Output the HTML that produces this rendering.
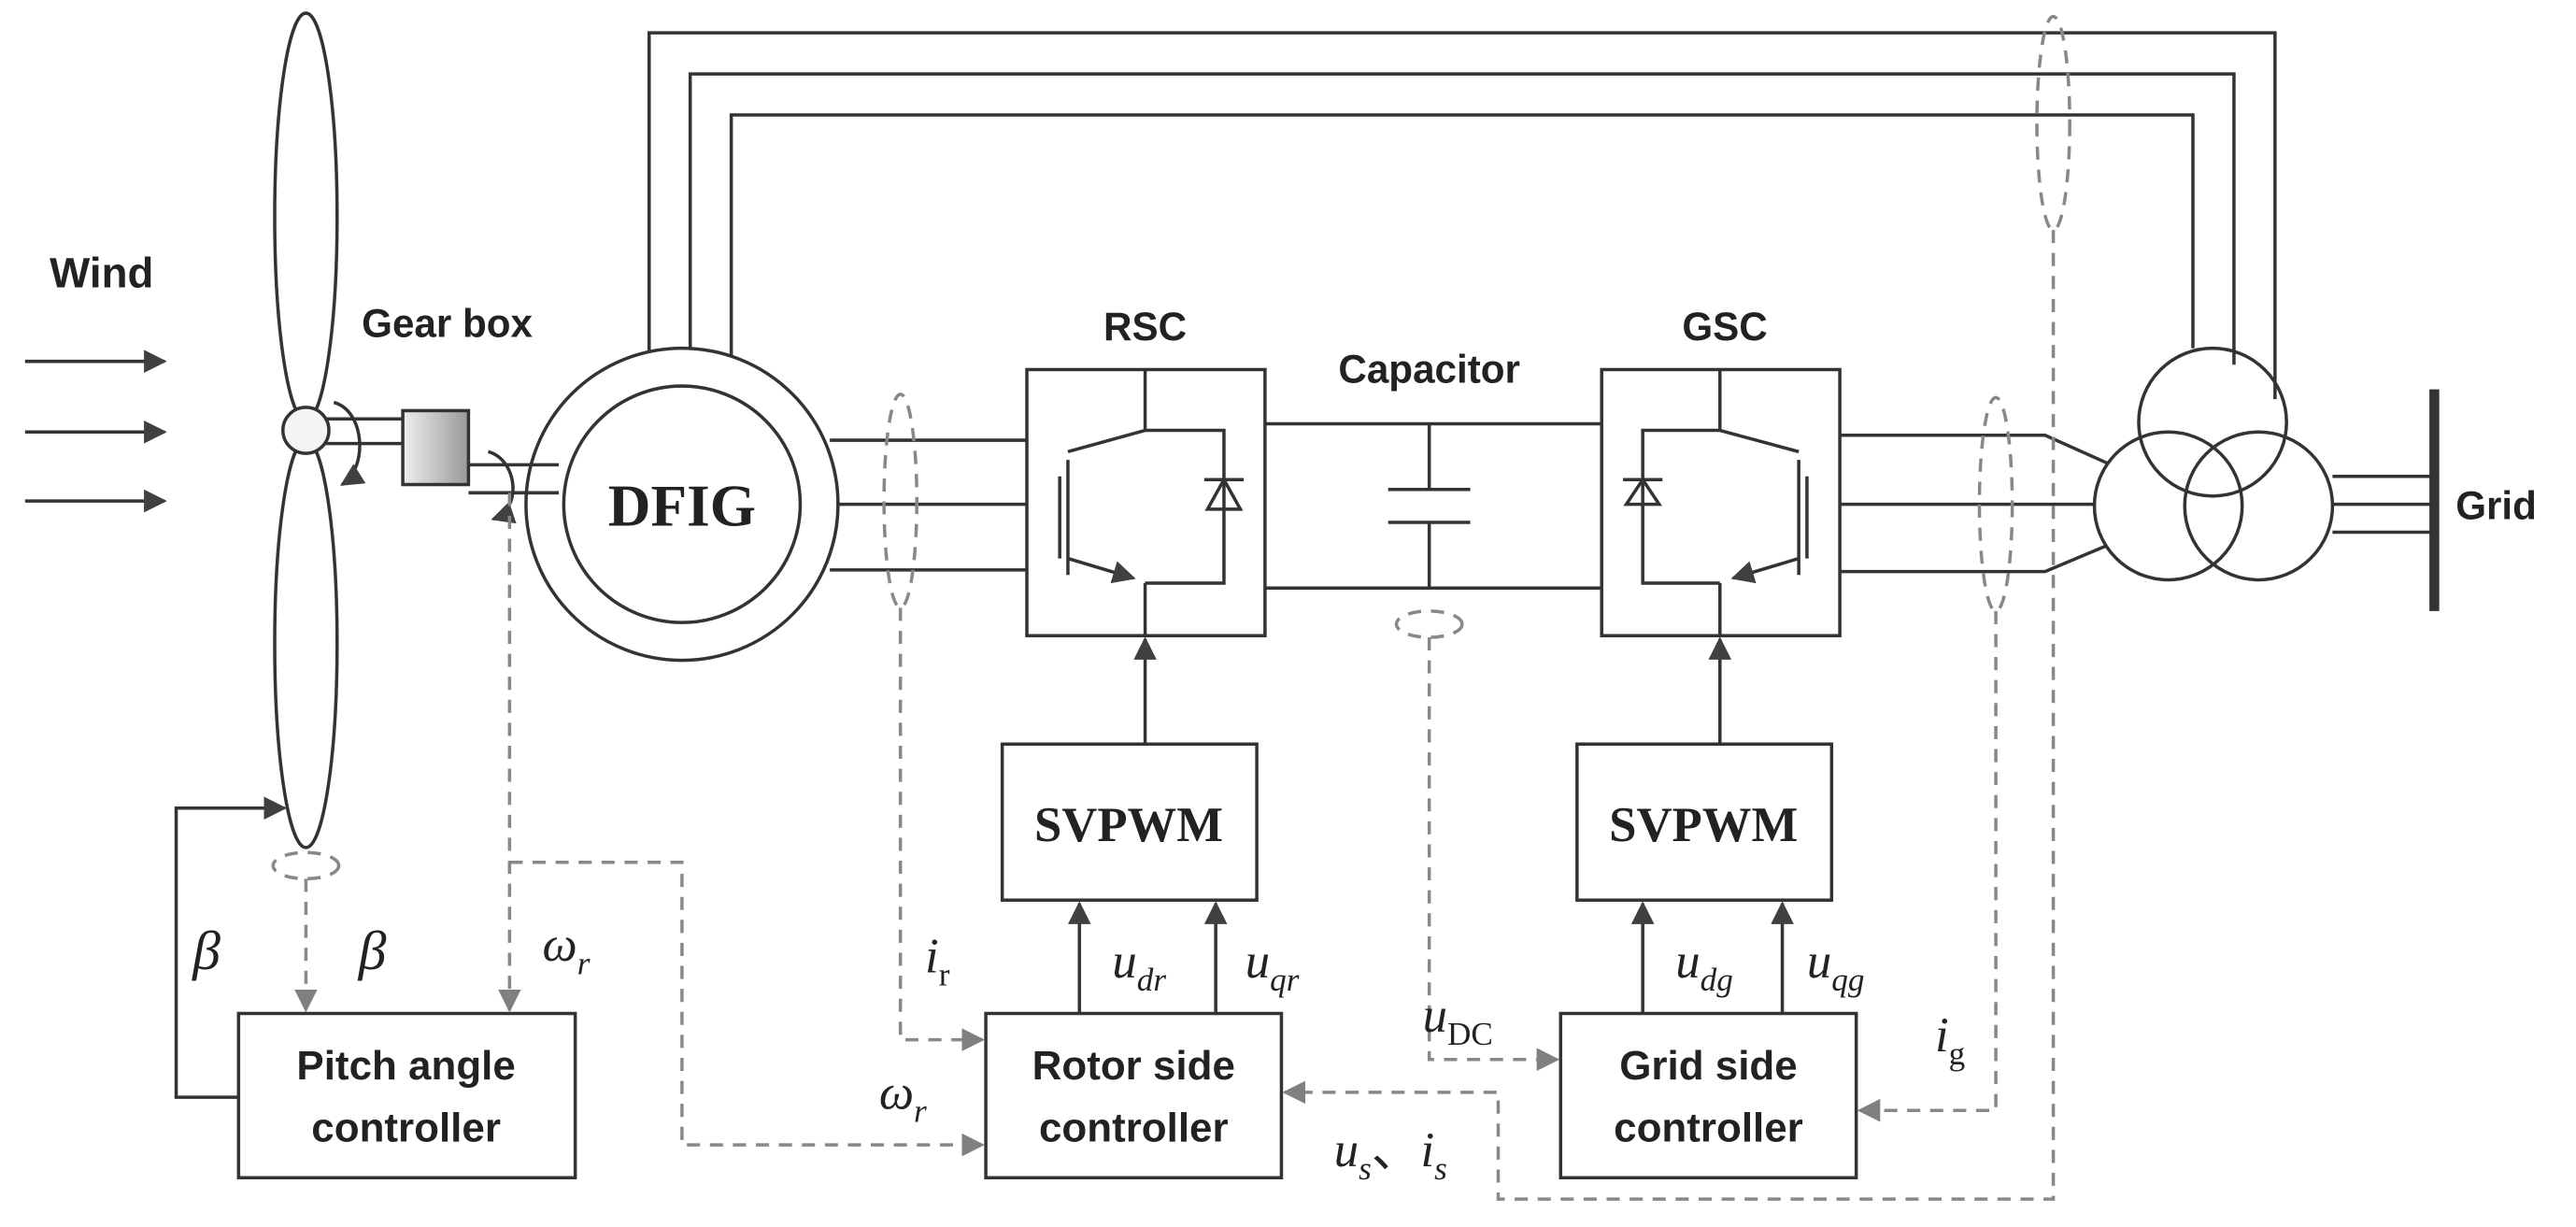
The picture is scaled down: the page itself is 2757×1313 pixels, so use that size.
<!DOCTYPE html>
<html><head><meta charset="utf-8"><style>
html,body{margin:0;padding:0;background:#fff;}
svg{display:block;}
.s{font-family:"Liberation Sans",sans-serif;font-weight:bold;}
.m{font-family:"Liberation Serif",serif;font-style:italic;}
</style></head><body>
<svg width="2757" height="1313" viewBox="0 0 1568 747" xmlns="http://www.w3.org/2000/svg">
<defs>
<marker id="a" viewBox="0 0 10 10" refX="9" refY="5" markerWidth="7" markerHeight="7" orient="auto-start-reverse"><path d="M0,0 L10,5 L0,10 z" fill="#404040"/></marker>
<marker id="g" viewBox="0 0 10 10" refX="9" refY="5" markerWidth="7" markerHeight="7" orient="auto-start-reverse"><path d="M0,0 L10,5 L0,10 z" fill="#808080"/></marker>
<linearGradient id="gb" x1="0" x2="1"><stop offset="0" stop-color="#eee"/><stop offset="1" stop-color="#999"/></linearGradient>
</defs>
<g fill="none" stroke="#333" stroke-width="2">
<line x1="15" y1="220" x2="100" y2="220" marker-end="url(#a)"/>
<line x1="15" y1="263" x2="100" y2="263" marker-end="url(#a)"/>
<line x1="15" y1="305" x2="100" y2="305" marker-end="url(#a)"/>
<ellipse cx="186" cy="132" rx="19" ry="124"/>
<ellipse cx="186" cy="392" rx="19" ry="124"/>
<line x1="198" y1="255" x2="245" y2="255"/><line x1="198" y1="270" x2="245" y2="270"/>
<line x1="285" y1="283" x2="340" y2="283"/><line x1="285" y1="300" x2="340" y2="300"/>
<path d="M203,245 C222,250 224,285 208,295" marker-end="url(#a)"/>
<path d="M297,275 C315,280 318,310 300,316" marker-end="url(#a)"/>
<circle cx="415" cy="307" r="95"/>
<circle cx="415" cy="307" r="72"/>
<polyline points="395,215 395,20 1385,20 1385,243"/>
<polyline points="420,212 420,45 1360,45 1360,222"/>
<polyline points="445,217 445,70 1335,70 1335,212"/>
<line x1="505" y1="268" x2="625" y2="268"/><line x1="510" y1="307" x2="625" y2="307"/><line x1="505" y1="347" x2="625" y2="347"/>
<rect x="625" y="225" width="145" height="162"/>
<line x1="697" y1="225" x2="697" y2="262"/>
<line x1="650" y1="275" x2="697" y2="262"/>
<line x1="645" y1="290" x2="645" y2="340"/>
<line x1="650" y1="280" x2="650" y2="350"/>
<line x1="650" y1="340" x2="690" y2="352" marker-end="url(#a)"/>
<line x1="697" y1="355" x2="697" y2="387"/>
<polyline points="697,262 745,262 745,355 697,355"/>
<path d="M735,310 L755,310 L745,292 z"/><line x1="733" y1="292" x2="757" y2="292"/>
<line x1="770" y1="258" x2="975" y2="258"/><line x1="770" y1="358" x2="975" y2="358"/>
<line x1="870" y1="258" x2="870" y2="298"/><line x1="870" y1="318" x2="870" y2="358"/>
<line x1="845" y1="298" x2="895" y2="298"/><line x1="845" y1="318" x2="895" y2="318"/>
<rect x="975" y="225" width="145" height="162"/>
<line x1="1047" y1="225" x2="1047" y2="262"/>
<line x1="1095" y1="275" x2="1047" y2="262"/>
<line x1="1100" y1="290" x2="1100" y2="340"/>
<line x1="1095" y1="280" x2="1095" y2="350"/>
<line x1="1095" y1="340" x2="1055" y2="352" marker-end="url(#a)"/>
<line x1="1047" y1="355" x2="1047" y2="387"/>
<polyline points="1047,262 1000,262 1000,355 1047,355"/>
<path d="M990,307 L1010,307 L1000,292 z"/><line x1="988" y1="292" x2="1012" y2="292"/>
<polyline points="1120,265 1245,265 1283,282"/>
<polyline points="1120,307 1275,307"/>
<polyline points="1120,348 1245,348 1283,332"/>
<circle cx="1347" cy="257" r="45"/>
<circle cx="1320" cy="308" r="45"/>
<circle cx="1375" cy="308" r="45"/>
<line x1="1420" y1="290" x2="1480" y2="290"/><line x1="1420" y1="307" x2="1480" y2="307"/><line x1="1420" y1="324" x2="1480" y2="324"/>
<line x1="1482" y1="237" x2="1482" y2="372" stroke-width="6"/>
<rect x="610" y="453" width="155" height="95"/>
<rect x="960" y="453" width="155" height="95"/>
<line x1="697" y1="453" x2="697" y2="389" marker-end="url(#a)"/>
<line x1="1047" y1="453" x2="1047" y2="389" marker-end="url(#a)"/>
<rect x="600" y="617" width="180" height="100"/>
<rect x="950" y="617" width="180" height="100"/>
<rect x="145" y="617" width="205" height="100"/>
<line x1="657" y1="617" x2="657" y2="550" marker-end="url(#a)"/>
<line x1="740" y1="617" x2="740" y2="550" marker-end="url(#a)"/>
<line x1="1000" y1="617" x2="1000" y2="550" marker-end="url(#a)"/>
<line x1="1085" y1="617" x2="1085" y2="550" marker-end="url(#a)"/>
<polyline points="145,668 107,668 107,492 173,492" marker-end="url(#a)"/>
</g>
<rect x="245" y="250" width="40" height="45" fill="url(#gb)" stroke="#333" stroke-width="2"/>
<circle cx="186" cy="262" r="14" fill="#f4f4f4" stroke="#333" stroke-width="2"/>
<g fill="none" stroke="#888" stroke-width="2" stroke-dasharray="8,6">
<ellipse cx="548" cy="305" rx="10" ry="65"/>
<ellipse cx="1215" cy="307" rx="10" ry="65"/>
<ellipse cx="1250" cy="75" rx="10" ry="65"/>
<ellipse cx="186" cy="527" rx="20" ry="8"/>
<ellipse cx="870" cy="380" rx="20" ry="8"/>
<polyline points="548,370 548,633 598,633" marker-end="url(#g)"/>
<polyline points="310,300 310,615" marker-end="url(#g)"/>
<polyline points="310,525 415,525 415,697 598,697" marker-end="url(#g)"/>
<polyline points="186,535 186,615" marker-end="url(#g)"/>
<polyline points="870,388 870,645 948,645" marker-end="url(#g)"/>
<polyline points="1215,372 1215,676 1132,676" marker-end="url(#g)"/>
<polyline points="1250,140 1250,730 912,730 912,665 782,665" marker-end="url(#g)"/>
</g>
<g fill="#222">
<text x="30" y="175" class="s" font-size="26">Wind</text>
<text x="220" y="205" class="s" font-size="24">Gear box</text>
<text x="415" y="320" font-family="Liberation Serif,serif" font-weight="bold" font-size="36" text-anchor="middle">DFIG</text>
<text x="697" y="207" class="s" font-size="24" text-anchor="middle">RSC</text>
<text x="870" y="233" class="s" font-size="24" text-anchor="middle">Capacitor</text>
<text x="1050" y="207" class="s" font-size="24" text-anchor="middle">GSC</text>
<text x="1495" y="316" class="s" font-size="24">Grid</text>
<text x="687" y="512" font-family="Liberation Serif,serif" font-weight="bold" font-size="30" text-anchor="middle">SVPWM</text>
<text x="1037" y="512" font-family="Liberation Serif,serif" font-weight="bold" font-size="30" text-anchor="middle">SVPWM</text>
<text x="690" y="657" class="s" font-size="25" text-anchor="middle">Rotor side</text>
<text x="690" y="695" class="s" font-size="25" text-anchor="middle">controller</text>
<text x="1040" y="657" class="s" font-size="25" text-anchor="middle">Grid side</text>
<text x="1040" y="695" class="s" font-size="25" text-anchor="middle">controller</text>
<text x="247" y="657" class="s" font-size="25" text-anchor="middle">Pitch angle</text>
<text x="247" y="695" class="s" font-size="25" text-anchor="middle">controller</text>
<text x="117" y="590" class="m" font-size="34">β</text>
<text x="218" y="590" class="m" font-size="34">β</text>
<text x="330" y="585" class="m" font-size="30">ω<tspan font-size="20" dy="8">r</tspan></text>
<text x="563" y="592" class="m" font-size="30">i<tspan font-size="20" dy="8" font-style="normal">r</tspan></text>
<text x="535" y="675" class="m" font-size="30">ω<tspan font-size="20" dy="8">r</tspan></text>
<text x="677" y="595" class="m" font-size="30">u<tspan font-size="20" dy="8">dr</tspan></text>
<text x="758" y="595" class="m" font-size="30">u<tspan font-size="20" dy="8">qr</tspan></text>
<text x="1020" y="595" class="m" font-size="30">u<tspan font-size="20" dy="8">dg</tspan></text>
<text x="1100" y="595" class="m" font-size="30">u<tspan font-size="20" dy="8">qg</tspan></text>
<text x="866" y="628" class="m" font-size="30">u<tspan font-size="20" dy="8" font-style="normal">DC</tspan></text>
<text x="1178" y="640" class="m" font-size="30">i<tspan font-size="20" dy="8" font-style="normal">g</tspan></text>
<text x="812" y="710" class="m" font-size="30">u<tspan font-size="20" dy="8">s</tspan><tspan dy="-8" font-family="Noto Sans CJK SC,sans-serif" font-style="normal">、</tspan>i<tspan font-size="20" dy="8">s</tspan></text>
</g>
</svg>
</body></html>
